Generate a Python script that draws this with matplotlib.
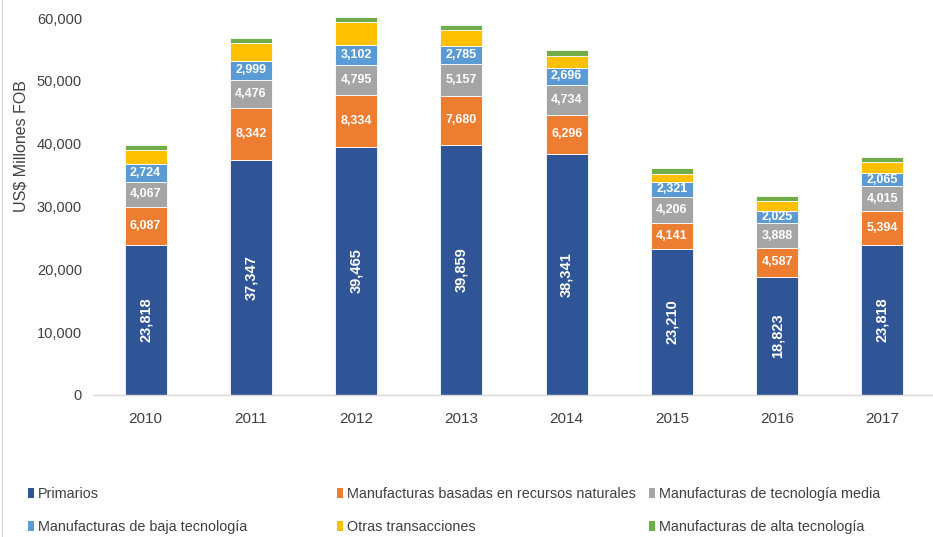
import matplotlib
matplotlib.use("Agg")
import matplotlib.pyplot as plt
from matplotlib.patches import Patch
from matplotlib.lines import Line2D
import numpy as np

years = ["2010", "2011", "2012", "2013", "2014", "2015", "2016", "2017"]
primarios = [23818, 37347, 39465, 39859, 38341, 23210, 18823, 23818]
rrnn = [6087, 8342, 8334, 7680, 6296, 4141, 4587, 5394]
media = [4067, 4476, 4795, 5157, 4734, 4206, 3888, 4015]
baja = [2724, 2999, 3102, 2785, 2696, 2321, 2025, 2065]
otras = [2300, 2900, 3700, 2550, 1950, 1350, 1600, 1750]
alta = [800, 800, 800, 900, 950, 950, 800, 800]

series_names = ["Primarios",
                "Manufacturas basadas en recursos naturales",
                "Manufacturas de tecnología media",
                "Manufacturas de baja tecnología",
                "Otras transacciones",
                "Manufacturas de alta tecnología"]
colors = ["#2F5597", "#ED7D31", "#A5A5A5", "#5B9BD5", "#FFC000", "#70AD47"]
series = [primarios, rrnn, media, baja, otras, alta]
labeled = [True, True, True, True, False, False]

FONT = ["Liberation Sans", "DejaVu Sans"]
TXT = "#404040"

fig = plt.figure(figsize=(9.33, 5.37), dpi=100)
ax = fig.add_axes([93/933, 142/537, (935-93)/933, (395-18)/537])

x = np.arange(len(years))
bottom = np.zeros(len(years))
for vals, col, name, lab in zip(series, colors, series_names, labeled):
    v = np.array(vals, dtype=float)
    ax.bar(x, v, 0.4, bottom=bottom, color=col, edgecolor="white",
           linewidth=0.6, label=name, zorder=2)
    if lab:
        for i in range(len(x)):
            yc = bottom[i] + v[i] / 2
            txt = f"{int(v[i]):,}"
            if name == "Primarios":
                ax.text(x[i], yc, txt, rotation=90, ha="center", va="center",
                        color="white", fontsize=10.5, fontweight="bold",
                        family=FONT, zorder=3)
            else:
                ax.text(x[i], yc, txt, ha="center", va="center",
                        color="white", fontsize=9, fontweight="bold",
                        family=FONT, zorder=3)
    bottom += v

ax.set_xlim(-0.5, 7.5)
ax.set_ylim(0, 60000)
ax.set_yticks(np.arange(0, 60001, 10000))
ax.set_yticklabels([f"{t:,}" for t in range(0, 60001, 10000)], family=FONT,
                   fontsize=10.5, color=TXT)
ax.set_xticks(x)
ax.set_xticklabels(years, family=FONT, fontsize=11, color=TXT)
ax.tick_params(axis="both", length=0)
ax.tick_params(axis="y", pad=8)
ax.tick_params(axis="x", pad=12)
for s in ["top", "right", "left"]:
    ax.spines[s].set_visible(False)
ax.spines["bottom"].set_color("#D9D9D9")
ax.spines["bottom"].set_linewidth(1)

fig.text(21/933, 1 - 146/537, "US$ Millones FOB", rotation=90, ha="center",
         va="center", family=FONT, fontsize=11.5, color=TXT)

# frame line on left edge
fig.add_artist(Line2D([2/933, 2/933], [0, 1], color="#D9D9D9", lw=1,
                      transform=fig.transFigure))

positions = [(28, 494), (337, 494), (649, 494),
             (28, 527), (337, 527), (649, 527)]
for idx, (px, py) in enumerate(positions):
    h = Patch(facecolor=colors[idx], edgecolor="none")
    leg = fig.legend([h], [series_names[idx]], loc="center left",
                     bbox_to_anchor=(px/933, 1 - py/537), frameon=False,
                     handlelength=0.4, handleheight=0.7, handletextpad=0.3,
                     borderpad=0, borderaxespad=0,
                     prop={"family": FONT, "size": 10.4})
    for t in leg.get_texts():
        t.set_color(TXT)

fig.savefig("out.png", dpi=100)
